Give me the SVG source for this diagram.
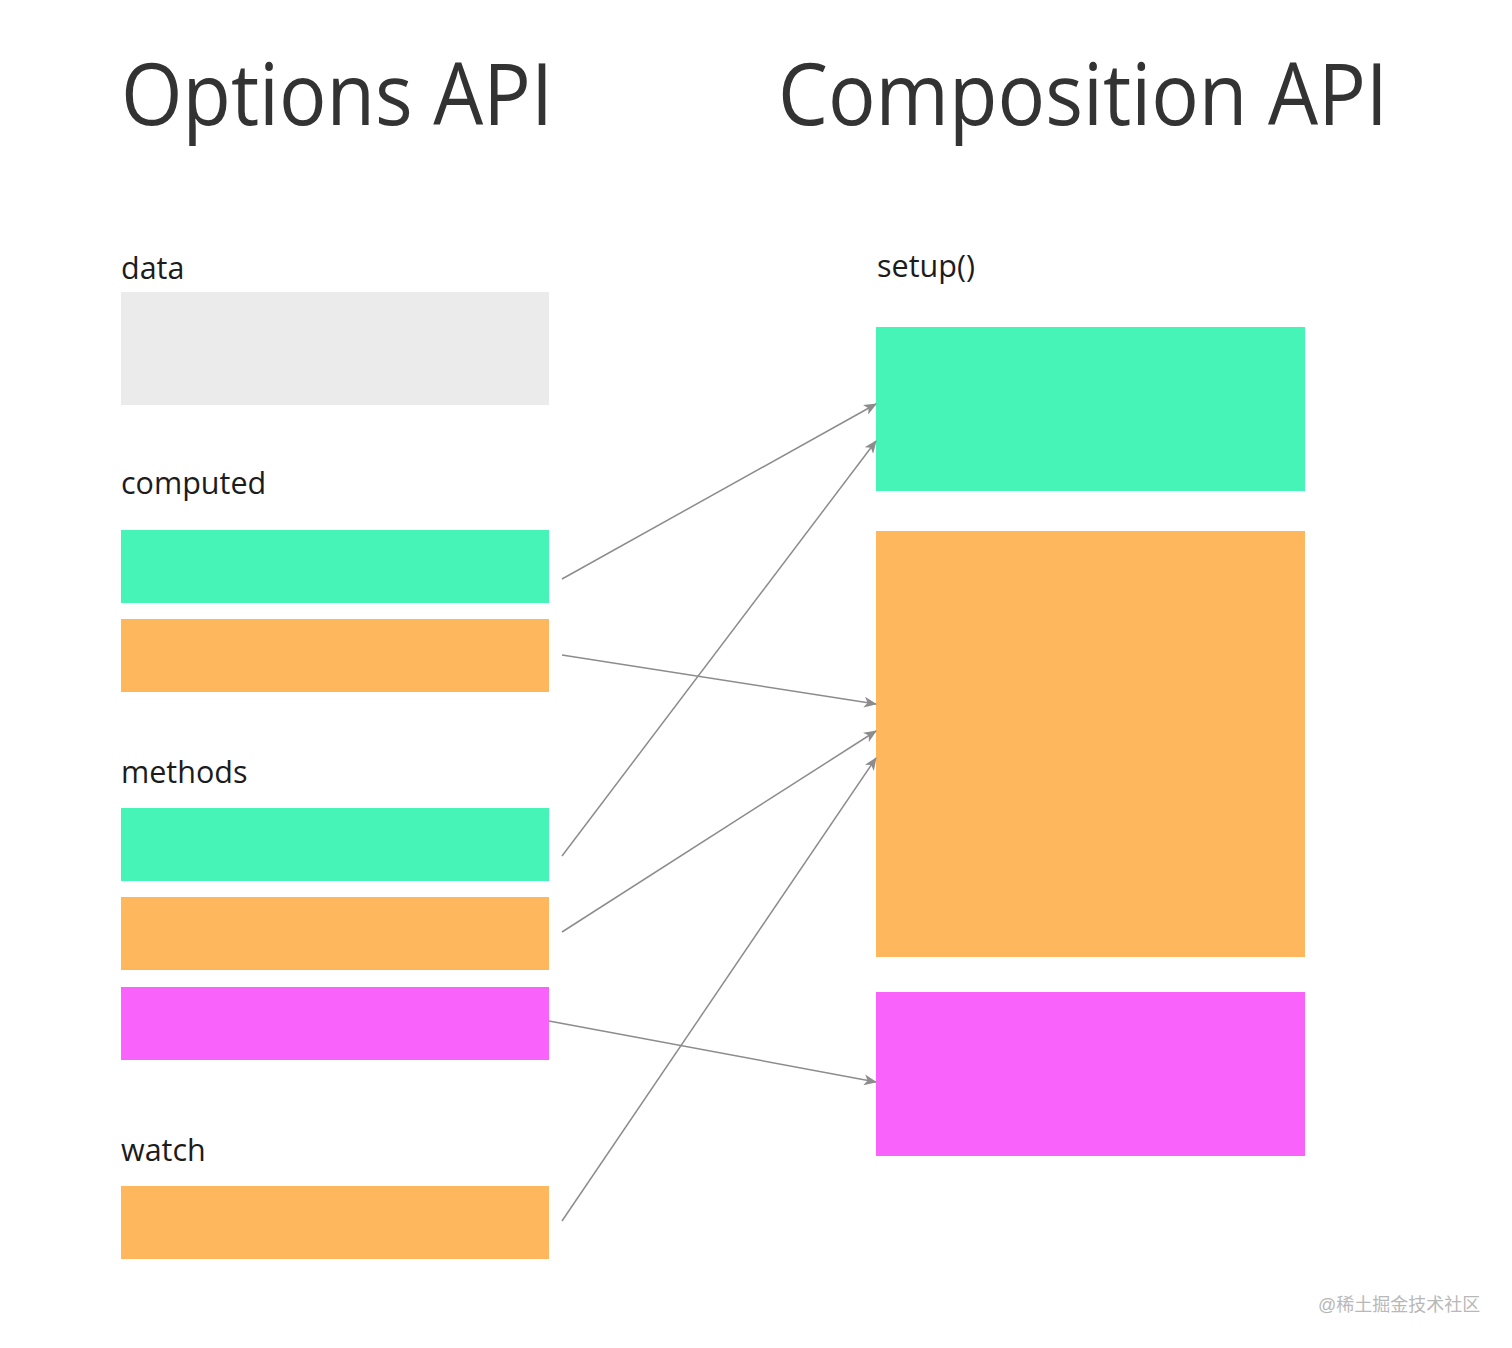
<svg xmlns="http://www.w3.org/2000/svg" width="1512" height="1348" viewBox="0 0 1512 1348">
<defs>
<style>
.title{font-family:"Open Sans","Liberation Sans",sans-serif;font-size:86px;fill:#333333}
.lbl{font-family:"Open Sans","Liberation Sans",sans-serif;font-size:30.5px;fill:#1c1c1c}
.g{fill:#47F4B8}.o{fill:#FFB75E}.m{fill:#F963FC}.d{fill:#EBEBEB}
.c{stroke:#8c8c8c;stroke-width:1.5;fill:none;marker-end:url(#ah)}
.wm{font-family:"Liberation Sans","Noto Sans CJK SC",sans-serif;font-size:18px;fill:#b8b8b8}
</style>
<marker id="ah" viewBox="0 0 13 11" refX="12" refY="5.5" markerWidth="13" markerHeight="11" markerUnits="userSpaceOnUse" orient="auto">
<path d="M0,0 L13,5.5 L0,11 L3.5,5.5 Z" fill="#8c8c8c"/>
</marker>
</defs>
<rect width="1512" height="1348" fill="#ffffff"/>
<text class="title" x="121" y="125" textLength="432" lengthAdjust="spacingAndGlyphs">Options API</text>
<text class="title" x="778" y="125" textLength="610" lengthAdjust="spacingAndGlyphs">Composition API</text>
<g id="data"><text class="lbl" x="121" y="279">data</text><rect class="d" x="121" y="292" width="428" height="113"/></g>
<g id="computed"><text class="lbl" x="121" y="494">computed</text>
<rect id="computed-1" class="g" x="121" y="530" width="428" height="73"/>
<rect id="computed-2" class="o" x="121" y="619" width="428" height="73"/></g>
<g id="methods"><text class="lbl" x="121" y="783">methods</text>
<rect id="methods-1" class="g" x="121" y="808" width="428" height="73"/>
<rect id="methods-2" class="o" x="121" y="897" width="428" height="73"/>
<rect id="methods-3" class="m" x="121" y="987" width="428" height="73"/></g>
<g id="watch"><text class="lbl" x="121" y="1161">watch</text>
<rect id="watch-1" class="o" x="121" y="1186" width="428" height="73"/></g>
<g id="setup"><text class="lbl" x="877" y="277">setup()</text>
<rect id="setup-1" class="g" x="876" y="327" width="429" height="164"/>
<rect id="setup-2" class="o" x="876" y="531" width="429" height="426"/>
<rect id="setup-3" class="m" x="876" y="992" width="429" height="164"/></g>
<g id="connectors">
<line class="c" x1="562" y1="579" x2="876" y2="404"/>
<line class="c" x1="562" y1="655" x2="876" y2="704"/>
<line class="c" x1="562" y1="856" x2="876" y2="441"/>
<line class="c" x1="562" y1="932" x2="876" y2="731"/>
<line class="c" x1="549" y1="1021" x2="876" y2="1082"/>
<line class="c" x1="562" y1="1221" x2="876" y2="758"/>
</g>
<text class="wm" x="1318" y="1311">@稀土掘金技术社区</text>
</svg>
